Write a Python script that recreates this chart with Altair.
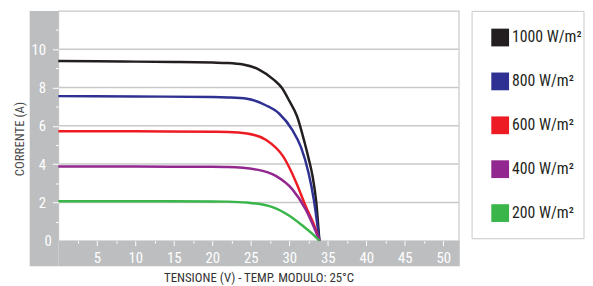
import altair as alt
import pandas as pd

# ---- data ----
series = ["1000 W/m²", "800 W/m²", "600 W/m²", "400 W/m²", "200 W/m²"]
colors = ["#231f20", "#2e3192", "#ed1c24", "#92278f", "#39b54a"]

v1000 = [0, 5, 10, 15, 20, 22, 24, 26, 28, 29, 30, 31, 32, 32.5, 33, 33.5, 33.9]
i1000 = [9.38, 9.37, 9.35, 9.33, 9.30, 9.28, 9.20, 8.95, 8.40, 8.00, 7.30, 6.50, 5.10, 4.30, 3.40, 2.00, 0]
v800 = [0, 10, 20, 22, 24.5, 27, 28.7, 30.4, 31.5, 32.5, 33.2, 33.9]
i800 = [7.55, 7.53, 7.50, 7.48, 7.41, 7.06, 6.63, 5.77, 4.90, 3.54, 2.10, 0]
v600 = [0, 10, 20, 22, 24.5, 27, 29.2, 30.9, 32.1, 33.4, 33.9]
i600 = [5.72, 5.71, 5.69, 5.68, 5.60, 5.26, 4.40, 3.03, 1.82, 0.62, 0]
v400 = [0, 10, 20, 22, 25.8, 28.3, 30.4, 32.1, 33.2, 33.9]
i400 = [3.88, 3.87, 3.86, 3.85, 3.71, 3.37, 2.68, 1.65, 0.70, 0]
v200 = [0, 10, 20, 22, 24.5, 27.9, 30, 31.7, 33, 33.9]
i200 = [2.06, 2.06, 2.05, 2.04, 1.99, 1.74, 1.30, 0.79, 0.36, 0]

x_ticks = [2.5 * k for k in range(1, 21)]
y_ticks = list(range(0, 12))
grid_values = [2, 4, 6, 8, 10]

rows = []
for name, vs, cs in zip(series, [v1000, v800, v600, v400, v200], [i1000, i800, i600, i400, i200]):
    for v, c in zip(vs, cs):
        rows.append({"serie": name, "V": v, "I": c})
df = pd.DataFrame(rows)

FONT = "Liberation Sans Narrow, Roboto Condensed, DejaVu Sans Condensed, sans-serif"
GRAY = "#bcbec0"
W, H = 406, 233

one = pd.DataFrame({"k": [0]})

# gray frame around the plot (left strip and bottom strip)
left_strip = alt.Chart(one).mark_rect(color=GRAY).encode(
    x=alt.value(-29), x2=alt.value(0), y=alt.value(0), y2=alt.value(259)
)
bottom_strip = alt.Chart(one).mark_rect(color=GRAY).encode(
    x=alt.value(0), x2=alt.value(407), y=alt.value(H), y2=alt.value(259)
)
legend_box = alt.Chart(one).mark_rect(fill="white", stroke="#c8c8c8", strokeWidth=1).encode(
    x=alt.value(419.5), x2=alt.value(533), y=alt.value(0.5), y2=alt.value(231)
)

xscale = alt.Scale(domain=[0, 52], nice=False, zero=False)
yscale = alt.Scale(domain=[0, 12], nice=False)
cscale = alt.Scale(domain=series, range=colors)

x_axis = alt.Axis(
    values=x_ticks,
    labelExpr="datum.value % 5 == 0 ? datum.label : ''",
    labelOverlap=False,
    grid=False, domain=False,
    tickColor="white", tickWidth=1,
    tickSize={"condition": {"test": "datum.value % 5 == 0", "value": 5}, "value": 2.5},
    labelColor="white", labelFont=FONT, labelFontSize=15, labelPadding=5,
    labelFlush=False,
    title="TENSIONE (V) - TEMP. MODULO: 25°C",
    titleFont=FONT, titleFontSize=13, titleFontWeight="normal", titleColor="#333333",
    titleX=W / 2, titleY=37, titleBaseline="middle", titleAnchor="middle",
    zindex=2,
)
y_axis = alt.Axis(
    values=y_ticks,
    labelExpr="datum.value % 2 == 0 ? datum.label : ''",
    labelOverlap=False,
    grid=False, domain=False,
    tickColor="white", tickWidth=1,
    tickSize={"condition": [{"test": "datum.value == 0", "value": 0},
                            {"test": "datum.value % 2 == 0", "value": 6}],
              "value": 3},
    labelColor="white", labelFont=FONT, labelFontSize=15, labelPadding=7,
    labelFlush=False,
    title="CORRENTE (A)",
    titleFont=FONT, titleFontSize=13, titleFontWeight="normal", titleColor="#4d4d4d",
    titleAngle=270, titleX=-39, titleY=129.5, titleBaseline="middle", titleAlign="center",
    zindex=2,
)

legend = alt.Legend(
    orient="none", legendX=439, legendY=18, direction="vertical",
    title=None, padding=0, rowPadding=26.5,
    symbolType="square", symbolSize=324, symbolStrokeWidth=0,
    symbolOpacity=1,
    labelFont=FONT, labelFontSize=16, labelColor="#231f20", labelOffset=3,
    labelLimit=200, zindex=3,
)

grid = alt.Chart(pd.DataFrame({"g": grid_values})).mark_rule(
    color="#c9c9c9", strokeWidth=1.5
).encode(y=alt.Y("g:Q", scale=yscale, axis=y_axis))

# invisible squares only to give the legend filled squares
legend_src = alt.Chart(df).mark_square(filled=True, size=0).encode(
    x=alt.X("V:Q", scale=xscale, axis=x_axis),
    y=alt.Y("I:Q", scale=yscale, axis=y_axis),
    color=alt.Color("serie:N", scale=cscale, sort=series, legend=legend),
)

lines = alt.Chart(df).mark_line(strokeWidth=2.5, interpolate="monotone").encode(
    x=alt.X("V:Q", scale=xscale, axis=x_axis),
    y=alt.Y("I:Q", scale=yscale, axis=y_axis),
    color=alt.Color("serie:N", scale=cscale, sort=series, legend=legend),
    detail="serie:N",
)

chart = alt.layer(left_strip, bottom_strip, legend_box, grid, legend_src, lines).properties(
    width=W, height=H,
    autosize=alt.AutoSizeParams(type="none"),
    padding={"left": 51, "top": 1, "right": 128, "bottom": 44},
    background="white",
).configure_view(fill="white", stroke="#c8c8c8", strokeWidth=1.2)

chart.save("out.html", embed_options={"renderer": "svg", "actions": False})
